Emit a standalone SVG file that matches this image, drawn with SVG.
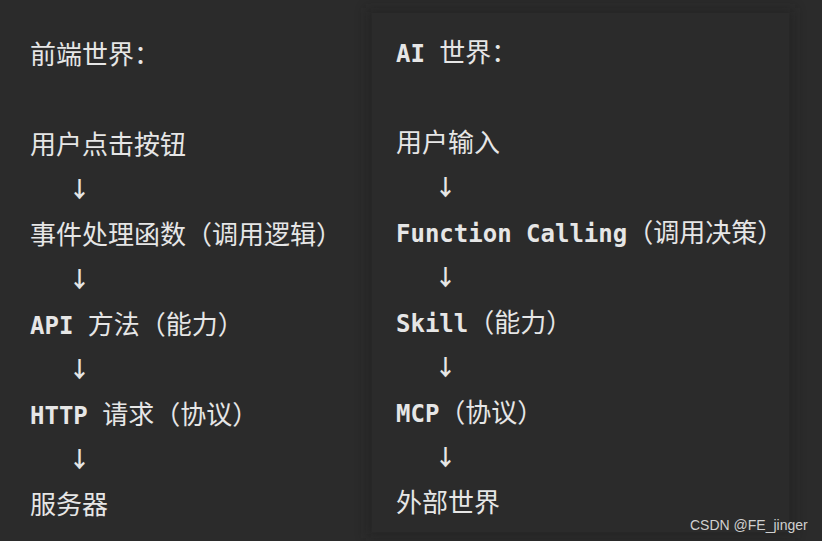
<svg xmlns="http://www.w3.org/2000/svg" width="822" height="541" viewBox="0 0 822 541">
<defs>
<filter id="sh" x="-10%" y="-10%" width="120%" height="120%"><feGaussianBlur stdDeviation="6"/></filter>
<style>
.t{font-family:"DejaVu Sans Mono","Noto Sans CJK SC",monospace;font-size:26px;fill:#e6e6e6}
.b{font-weight:700;font-size:24px}
.a{font-family:"Noto Sans CJK SC",sans-serif;font-size:22px;fill:#e6e6e6;font-weight:700;text-anchor:middle}
.wm{font-family:"Liberation Sans",sans-serif;font-size:14px;fill:#d0d0d0}
</style>
</defs>
<rect width="822" height="541" fill="#2b2b2b"/>
<rect x="366" y="8" width="429" height="530" fill="#1e1e1e" opacity="0.35" filter="url(#sh)"/>
<rect x="372" y="13" width="417" height="519" fill="#2b2b2b"/>
<g id="left-title"><text class="t" x="30" y="64">前端世界：</text></g>
<g id="left-1"><text class="t" x="30" y="154">用户点击按钮</text></g>
<g id="left-2"><text class="t" x="30" y="244">事件处理函数（调用逻辑）</text></g>
<g id="left-3"><text class="t" x="30" y="334"><tspan class="b">API </tspan>方法（能力）</text></g>
<g id="left-4"><text class="t" x="30" y="424"><tspan class="b">HTTP </tspan>请求（协议）</text></g>
<g id="left-5"><text class="t" x="30" y="514">服务器</text></g>
<g id="right-title"><text class="t" x="396" y="62"><tspan class="b">AI </tspan>世界：</text></g>
<g id="right-1"><text class="t" x="396" y="152">用户输入</text></g>
<g id="right-2"><text class="t" x="396" y="242"><tspan class="b">Function Calling</tspan>（调用决策）</text></g>
<g id="right-3"><text class="t" x="396" y="332"><tspan class="b">Skill</tspan>（能力）</text></g>
<g id="right-4"><text class="t" x="396" y="422"><tspan class="b">MCP</tspan>（协议）</text></g>
<g id="right-5"><text class="t" x="396" y="512">外部世界</text></g>
<g id="connectors">
<text class="a" x="79.5" y="197">↓</text>
<text class="a" x="79.5" y="287">↓</text>
<text class="a" x="79.5" y="377">↓</text>
<text class="a" x="79.5" y="467">↓</text>
<text class="a" x="445.5" y="195">↓</text>
<text class="a" x="445.5" y="285">↓</text>
<text class="a" x="445.5" y="375">↓</text>
<text class="a" x="445.5" y="465">↓</text>
</g>
<text class="wm" x="690" y="530">CSDN @FE_jinger</text>
</svg>
